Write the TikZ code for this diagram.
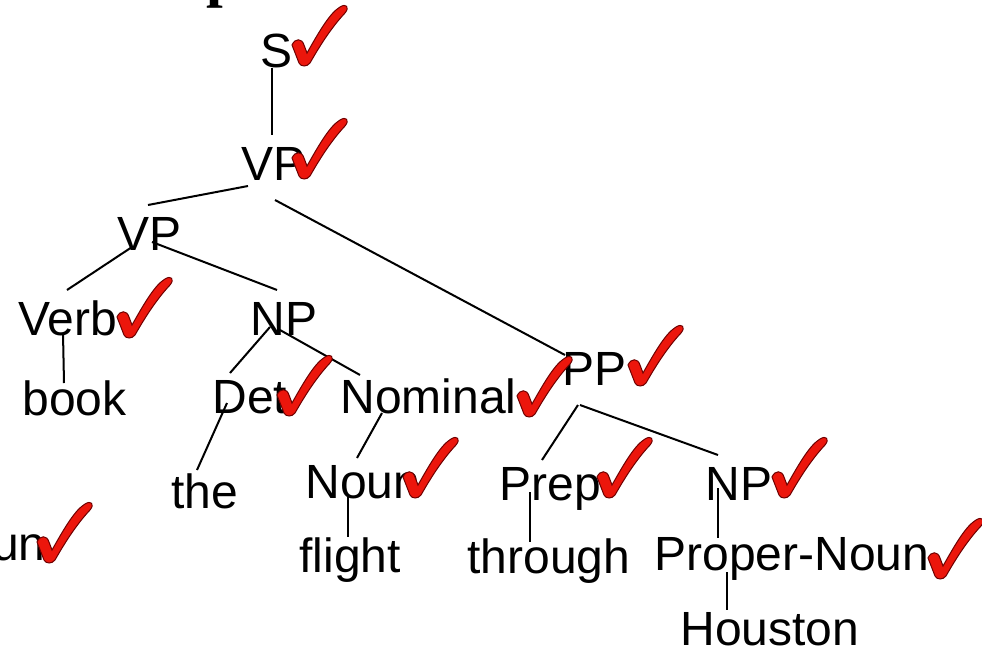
\documentclass[tikz,border=0pt]{standalone}
\usepackage{fontspec}
\setmainfont{Liberation Sans}
\newfontfamily\titlefont{Liberation Serif}
\definecolor{tickred}{RGB}{236,22,12}
\definecolor{tickedge}{RGB}{110,0,0}
\tikzset{
  cat/.style={inner sep=0pt,anchor=base west,font=\fontsize{24}{28}\selectfont},
  branch/.style={line width=1pt},
  tick/.pic={
    \filldraw[fill=tickred,draw=tickedge,line width=0.5pt]
      (0,-20) .. controls (3,-27) and (10,-27) .. (12,-20)
      -- (15,-12) .. controls (28,-35) and (38,-52) .. (48,-58)
      .. controls (54,-62) and (58,-58) .. (53,-52)
      .. controls (38,-36) and (26,-16) .. (18,-2)
      .. controls (15,2) and (9,2) .. (7,-2) -- cycle;
  }
}
\begin{document}
\begin{tikzpicture}[x=0.5pt,y=-0.5pt]
  \useasboundingbox (0,0) rectangle (982,649);
  % title fragment
  \node[inner sep=0pt,anchor=base west,font=\titlefont\bfseries\fontsize{30}{36}\selectfont] (title) at (206,-5) {p};
  % categories
  \node[cat] (s) at (260,67) {S};
  \node[cat] (vpa) at (241,180) {VP};
  \node[cat] (vpb) at (117,250) {VP};
  \node[cat] (verb) at (18,335) {Verb};
  \node[cat] (npa) at (250,335) {NP};
  \node[cat] (det) at (212,413) {Det};
  \node[cat] (nominal) at (340,413) {Nominal};
  \node[cat] (noun) at (305,498) {Noun};
  \node[cat] (pp) at (562,385) {PP};
  \node[cat] (prep) at (499,500) {Prep};
  \node[cat] (npb) at (705,500) {NP};
  \node[cat] (proper) at (654,570) {Proper-Noun};
  \node[cat,anchor=base east] (frag) at (46,560) {Noun};
  % words
  \node[cat] (book) at (22,415) {book};
  \node[cat] (the) at (171,508) {the};
  \node[cat] (flight) at (299,572) {flight};
  \node[cat] (through) at (467,573) {through};
  \node[cat] (houston) at (680,645) {Houston};
  % branches
  \draw[branch] ([shift={(12,1)}]s.base west) -- ([shift={(31,-45)}]vpa.base west);
  \draw[branch] ([shift={(7,6)}]vpa.base west) -- ([shift={(31,-45)}]vpb.base west);
  \draw[branch] ([shift={(34,20)}]vpa.base west) -- ([shift={(3,-30)}]pp.base west);
  \draw[branch] ([shift={(15,-3)}]vpb.base west) -- ([shift={(49,-45)}]verb.base west);
  \draw[branch] ([shift={(35,-8)}]vpb.base west) -- ([shift={(27,-45)}]npa.base west);
  \draw[branch] ([shift={(45,-2)}]verb.base west) -- ([shift={(42,-32)}]book.base west);
  \draw[branch] ([shift={(20,-8)}]npa.base west) -- ([shift={(18,-40)}]det.base west);
  \draw[branch] ([shift={(30,-5)}]npa.base west) -- ([shift={(20,-38)}]nominal.base west);
  \draw[branch] ([shift={(15,-10)}]det.base west) -- ([shift={(26,-38)}]the.base west);
  \draw[branch] ([shift={(42,0)}]nominal.base west) -- ([shift={(52,-40)}]noun.base west);
  \draw[branch] ([shift={(43,-1)}]noun.base west) -- ([shift={(49,-35)}]flight.base west);
  \draw[branch] ([shift={(16,20)}]pp.base west) -- ([shift={(43,-40)}]prep.base west);
  \draw[branch] ([shift={(18,20)}]pp.base west) -- ([shift={(13,-45)}]npb.base west);
  \draw[branch] ([shift={(31,-8)}]prep.base west) -- ([shift={(63,-31)}]through.base west);
  \draw[branch] ([shift={(13,-12)}]npb.base west) -- ([shift={(64,-32)}]proper.base west);
  \draw[branch] ([shift={(73,2)}]proper.base west) -- ([shift={(47,-35)}]houston.base west);
  % checks
  \foreach \x/\y in {292/65,292/178,117/337,277/415,517/416,628/385,403/497,597/497,772/497,928/578,37/562}
    \pic at (\x,\y) {tick};
\end{tikzpicture}
\end{document}
